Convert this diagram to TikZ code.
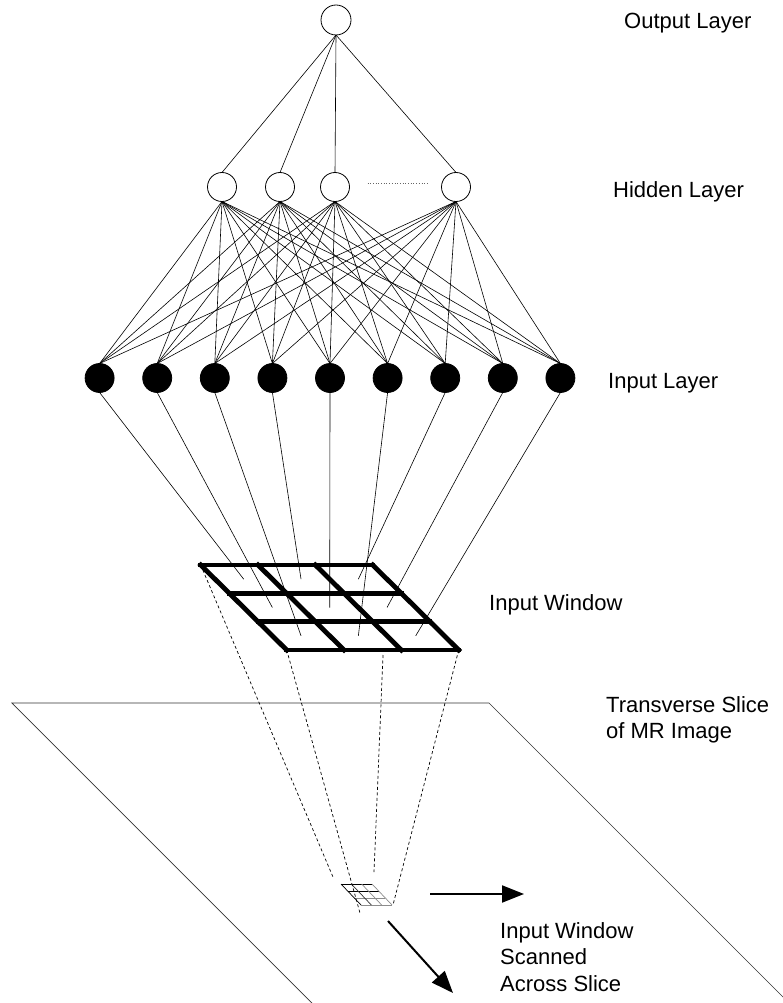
\documentclass[tikz,border=0pt]{standalone}
\usepackage{fontspec}
\setmainfont{Liberation Sans}
\usetikzlibrary{arrows.meta, positioning}

\begin{document}
\begin{tikzpicture}[
    x=1pt, y=-1pt,
    node distance=28.6pt,
    neuron/.style={circle, draw, line width=0.8pt, minimum size=29pt, inner sep=0pt, outer sep=0pt},
    inunit/.style={neuron, fill=black},
    link/.style={line width=0.6pt},
    winline/.style={line width=4.8pt, line cap=rect},
    tinyline/.style={line width=0.7pt},
    projline/.style={line width=0.7pt, dash pattern=on 3pt off 2.5pt},
    scanarrow/.style={line width=2pt, -{Triangle[length=22pt, width=17pt]}},
    lbl/.style={anchor=west, align=left, inner sep=0pt, font=\fontsize{22}{26.5}\selectfont}
]
\useasboundingbox (0,0) rectangle (783,1003);

% output layer
\node[neuron, minimum size=30pt] (o) at (336,20) {};

% hidden layer
\node[neuron] (h1) at (222,187) {};
\node[neuron] (h2) at (280,187) {};
\node[neuron] (h3) at (335,187) {};
\node[neuron] (h4) at (456,187) {};
\draw[dotted, line width=0.7pt, black!60] ([xshift=18pt, yshift=4pt]h3.east) -- ([xshift=-12pt, yshift=4pt]h4.west);

% input layer
\node[inunit] (i1) at (99.6,378) {};
\node[inunit, right=of i1] (i2) {};
\node[inunit, right=of i2] (i3) {};
\node[inunit, right=of i3] (i4) {};
\node[inunit, right=of i4] (i5) {};
\node[inunit, right=of i5] (i6) {};
\node[inunit, right=of i6] (i7) {};
\node[inunit, right=of i7] (i8) {};
\node[inunit, right=of i8] (i9) {};

% output -> hidden
\foreach \h in {1,...,4}
    \draw[link] (o.south) -- (h\h.north);

% hidden -> input
\foreach \h in {1,...,4}
    \foreach \i in {1,...,9}
        \draw[link] (h\h.south) -- (i\i.north);

% input window (3x3 cells)
\begin{scope}[shift={(200.7,565)}, x={(172pt,0pt)}, y={(86pt,-85pt)}]
    \coordinate (w-tl) at (0,0);
    \coordinate (w-tr) at (1,0);
    \coordinate (w-bl) at (0,1);
    \coordinate (w-br) at (1,1);
    \coordinate (w-bm) at (0.56,1);
    \foreach \r in {0,1,2}
        \foreach \c in {0,1,2}
            \coordinate (c\r\c) at ({(\c+0.5)/3},{(\r+0.5)/3});
\end{scope}

% input -> window cells
\foreach \k/\r/\c in {1/0/0, 2/1/0, 3/2/0, 4/0/1, 5/1/1, 6/2/1, 7/0/2, 8/1/2, 9/2/2}
    \draw[link] (i\k.south) -- (c\r\c);

\begin{scope}[shift={(200.7,565)}, x={(172pt,0pt)}, y={(86pt,-85pt)}]
    \foreach \t in {0,1/3,2/3,1} {
        \draw[winline] (\t,0) -- (\t,1);
        \draw[winline] (0,\t) -- (1,\t);
    }
\end{scope}

% slice of the image
\coordinate (sl-a) at (312,1003);
\coordinate (sl-b) at (12,703);
\coordinate (sl-c) at (489,703);
\coordinate (sl-d) at (783,997);
\draw[line width=0.7pt, black!80] (sl-a) -- (sl-b) -- (sl-c) -- (sl-d);

% small window on the slice
\begin{scope}[shift={(341,884)}, x={(31pt,0pt)}, y={(20pt,-21pt)}]
    \draw[tinyline] (0,0) -- (1,0);
    \draw[tinyline] (0,1/3) -- (1,1/3);
    \draw[tinyline, black!45] (0,2/3) -- (1,2/3);
    \draw[tinyline, black!45] (0,1) -- (1,1);
    \draw[tinyline] (0,0) -- (0,1);
    \draw[tinyline, black!80] (1/3,0) -- (1/3,1);
    \draw[tinyline, black!45] (2/3,0) -- (2/3,1);
    \draw[tinyline, black!45] (1,0) -- (1,1);
\end{scope}

% projection of the window
\coordinate (p1) at (333,877);
\coordinate (p2) at (360,913);
\coordinate (p3) at (374,872);
\coordinate (p4) at (393,905);
\draw[projline] (w-tl) -- (p1);
\draw[projline] (w-bl) -- (p2);
\draw[projline] ([yshift=-5pt]w-bm) -- (p3);
\draw[projline] (w-br) -- (p4);

% scan directions
\coordinate (sx0) at (430,894);
\coordinate (sx1) at (524,894);
\coordinate (sy0) at (388,921);
\coordinate (sy1) at (453,993);
\draw[scanarrow] (sx0) -- (sx1);
\draw[scanarrow] (sy0) -- (sy1);

% labels
\node[lbl] (out-lbl) at (624,23) {Output Layer};
\node[lbl] (hid-lbl) at (613,192) {Hidden Layer};
\node[lbl] (in-lbl) at (608,383) {Input Layer};
\node[lbl] (win-lbl) at (489,605) {Input Window};
\node[lbl] (slice-lbl) at (606,720) {Transverse Slice\\of MR Image};
\node[lbl] (scan-lbl) at (500,957) {Input Window\\Scanned\\Across Slice};

\end{tikzpicture}
\end{document}
